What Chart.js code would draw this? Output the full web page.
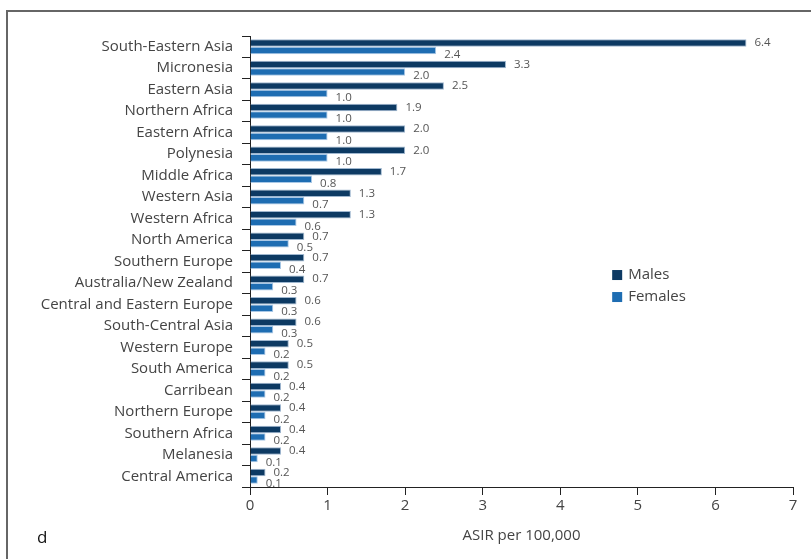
<!DOCTYPE html>
<html>
<head>
<meta charset="utf-8">
<script src="https://cdn.jsdelivr.net/npm/chart.js@4/dist/chart.umd.min.js"></script>
<style>
  html, body { margin: 0; padding: 0; background: #fff; }
  #wrap { position: relative; width: 811px; height: 559px; overflow: hidden; }
  #frame { position: absolute; left: 6px; top: 10px; width: 900px; height: 700px;
           border-top: 2px solid #666; border-left: 2px solid #666; }
  #panel { position: absolute; left: 37px; top: 525px; font: 17px "Open Sans", sans-serif; color: #111; }
  canvas { position: absolute; left: 0; top: 0; }
</style>
</head>
<body>
<div id="wrap">
  <div id="frame"></div>
  <canvas id="chart" width="811" height="559"></canvas>
  <div id="panel">d</div>
</div>
<script>
const regions = ['South-Eastern Asia', 'Micronesia', 'Eastern Asia', 'Northern Africa', 'Eastern Africa',
  'Polynesia', 'Middle Africa', 'Western Asia', 'Western Africa', 'North America', 'Southern Europe',
  'Australia/New Zealand', 'Central and Eastern Europe', 'South-Central Asia', 'Western Europe',
  'South America', 'Carribean', 'Northern Europe', 'Southern Africa', 'Melanesia', 'Central America'];
const males = [6.4, 3.3, 2.5, 1.9, 2.0, 2.0, 1.7, 1.3, 1.3, 0.7, 0.7, 0.7, 0.6, 0.6, 0.5, 0.5, 0.4, 0.4, 0.4, 0.4, 0.2];
const females = [2.4, 2.0, 1.0, 1.0, 1.0, 1.0, 0.8, 0.7, 0.6, 0.5, 0.4, 0.3, 0.3, 0.3, 0.2, 0.2, 0.2, 0.2, 0.2, 0.1, 0.1];
const xTicks = [0, 1, 2, 3, 4, 5, 6, 7];

const FONT = '"Open Sans", sans-serif';
const MALE_COLOR = '#0d3a63';
const FEMALE_COLOR = '#1e6db2';

// value labels to the right of every bar
const valueLabels = {
  id: 'valueLabels',
  afterDatasetsDraw(chart) {
    const ctx = chart.ctx;
    ctx.save();
    ctx.font = '11.5px ' + FONT;
    ctx.fillStyle = '#555';
    ctx.textAlign = 'left';
    ctx.textBaseline = 'middle';
    chart.data.datasets.forEach((ds, i) => {
      chart.getDatasetMeta(i).data.forEach((bar, j) => {
        const dy = i === 0 ? 0 : 4;
        ctx.fillText(ds.data[j].toFixed(1), bar.x + 8, bar.y + dy);
      });
    });
    ctx.restore();
  }
};

// legend placed inside the plot, right of centre
const insideLegend = {
  id: 'insideLegend',
  afterDraw(chart) {
    const ctx = chart.ctx;
    const a = chart.chartArea;
    const x = a.left + (a.right - a.left) * 0.667;
    const y = a.top + (a.bottom - a.top) * 0.53;
    ctx.save();
    ctx.font = '15px ' + FONT;
    ctx.textBaseline = 'middle';
    chart.data.datasets.forEach((ds, i) => {
      const yy = y + i * 22;
      ctx.fillStyle = ds.backgroundColor;
      ctx.fillRect(x, yy - 5, 10, 10);
      ctx.fillStyle = '#444';
      ctx.fillText(ds.label, x + 16, yy);
    });
    ctx.restore();
  }
};

new Chart(document.getElementById('chart'), {
  type: 'bar',
  data: {
    labels: regions,
    datasets: [{
      label: 'Males',
      data: males,
      backgroundColor: MALE_COLOR,
      borderColor: '#9fb7cf',
      borderWidth: 1,
      categoryPercentage: 0.7,
      barPercentage: 1
    }, {
      label: 'Females',
      data: females,
      backgroundColor: FEMALE_COLOR,
      borderColor: '#a9c8e6',
      borderWidth: 1,
      categoryPercentage: 0.7,
      barPercentage: 1
    }]
  },
  options: {
    indexAxis: 'y',
    responsive: false,
    animation: false,
    layout: { padding: { top: 36, right: 18, left: 0, bottom: 0 } },
    plugins: {
      legend: { display: false },
      tooltip: { enabled: false }
    },
    scales: {
      x: {
        min: 0,
        max: 7,
        afterBuildTicks(scale) {
          scale.ticks = xTicks.map(v => ({ value: v }));
        },
        afterFit(scale) { scale.height = 72; },
        border: { color: '#222', width: 1 },
        grid: { drawOnChartArea: false, tickLength: 8, color: '#222' },
        ticks: { font: { family: FONT, size: 15 }, color: '#444', padding: 2 },
        title: {
          display: true,
          text: 'ASIR per 100,000',
          font: { family: FONT, size: 15 },
          color: '#444',
          padding: { top: 4, bottom: 14 }
        }
      },
      y: {
        afterFit(scale) { scale.width = 250; },
        border: { color: '#222', width: 1 },
        grid: { drawOnChartArea: false, tickLength: 8, color: '#222', offset: true },
        ticks: { font: { family: FONT, size: 15 }, color: '#444', padding: 9, autoSkip: false }
      }
    }
  },
  plugins: [valueLabels, insideLegend]
});
</script>
</body>
</html>
